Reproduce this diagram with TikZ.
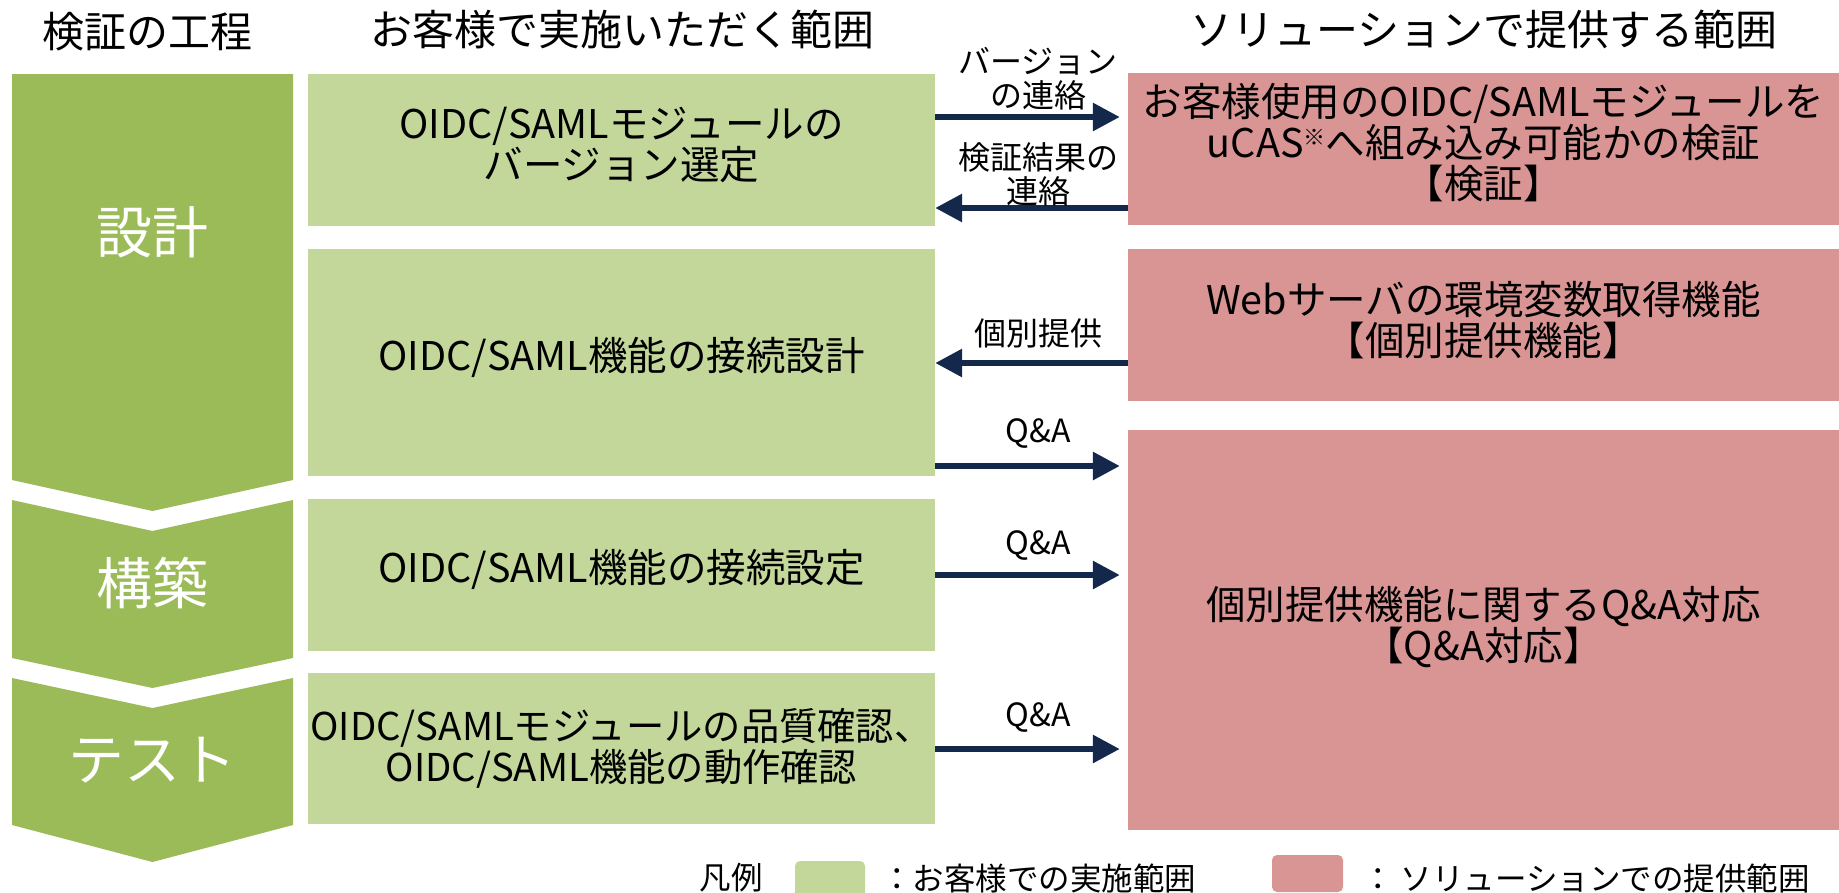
\documentclass[tikz,border=0pt]{standalone}
\usepackage{fontspec}
\setmainfont{Noto Sans CJK JP}
\usetikzlibrary{arrows.meta}
\definecolor{chev}{HTML}{9BBB59}
\definecolor{lgreen}{HTML}{C4D79B}
\definecolor{lpink}{HTML}{D99594}
\definecolor{navy}{HTML}{13284A}
\tikzset{
  boxtext/.style={inner sep=0pt, align=center, font=\fontsize{39.5}{41}\selectfont},
  gbox/.style={inner sep=0pt, fill=lgreen, minimum width=627pt},
  pbox/.style={inner sep=0pt, fill=lpink, minimum width=711pt},
  hdr/.style={inner sep=0pt, font=\fontsize{42}{44}\selectfont},
  stage/.style={inner sep=0pt, text=white, font=\fontsize{56}{60}\selectfont},
  lab/.style={inner sep=0pt, align=center, font=\fontsize{32}{34}\selectfont},
  leg/.style={inner sep=0pt, font=\fontsize{31.5}{34}\selectfont},
  arr/.style={draw=navy, line width=6pt, -{Triangle[length=27pt,width=27pt]}},
  chevfill/.style={fill=chev},
}
\begin{document}
\begin{tikzpicture}[x=1pt,y=-1pt]
\useasboundingbox (0,0) rectangle (1839,892);
% headers
\node[hdr] (h1) at (147,32) {検証の工程};
\node[hdr] (h2) at (622,29) {お客様で実施いただく範囲};
\node[hdr] (h3) at (1484,29) {ソリューションで提供する範囲};
% chevrons
\fill[chevfill] (12,74) -- (293,74) -- (293,480) -- (152.5,511) -- (12,480) -- cycle;
\fill[chevfill] (12,500) -- (152.5,531) -- (293,500) -- (293,658) -- (152.5,688) -- (12,658) -- cycle;
\fill[chevfill] (12,678) -- (152.5,708) -- (293,678) -- (293,825) -- (152.5,862) -- (12,825) -- cycle;
\node[stage] (s1) at (152.5,232) {設計};
\node[stage] (s2) at (152.5,583) {構築};
\node[stage] (s3) at (152.5,760) {テスト};
% customer boxes
\node[gbox, minimum height=152pt] (g1) at (621.5,150) {};
\node[gbox, minimum height=227pt] (g2) at (621.5,362.5) {};
\node[gbox, minimum height=152pt] (g3) at (621.5,575) {};
\node[gbox, minimum height=151pt] (g4) at (621.5,748.5) {};
\node[boxtext] (g1t) at ([yshift=5pt]g1.center) {OIDC/SAMLモジュールの\\バージョン選定};
\node[boxtext] (g2t) at ([yshift=5pt]g2.center) {OIDC/SAML機能の接続設計};
\node[boxtext] (g3t) at ([yshift=6pt]g3.center) {OIDC/SAML機能の接続設定};
\node[boxtext, font=\fontsize{38.3}{41}\selectfont] (g4t) at (g4.center) {OIDC/SAMLモジュールの品質確認、\\OIDC/SAML機能の動作確認};
% solution boxes
\node[pbox, minimum height=152pt] (p1) at (1483.5,149) {};
\node[pbox, minimum height=152pt] (p2) at (1483.5,325) {};
\node[pbox, minimum height=400pt] (p3) at (1483.5,630) {};
\node[boxtext] (p1t) at ([yshift=6pt]p1.center) {お客様使用のOIDC/SAMLモジュールを\\uCAS{\fontsize{22}{22}\selectfont\raisebox{12pt}{※}}へ組み込み可能かの検証\\【検証】};
\node[boxtext] (p2t) at ([yshift=5pt]p2.center) {Webサーバの環境変数取得機能\\【個別提供機能】};
\node[boxtext] (p3t) at ([yshift=3pt]p3.center) {個別提供機能に関するQ\&A対応\\【Q\&A対応】};
% arrow levels
\coordinate (y1) at (0,117);
\coordinate (y2) at (0,208);
\coordinate (y3) at (0,363);
\coordinate (y4) at (0,466);
\coordinate (y5) at (0,575);
\coordinate (y6) at (0,749);
\draw[arr, shorten >=8pt] (g1.east |- y1) -- (p1.west |- y1) node[lab, midway, xshift=6.5pt, yshift=38.5pt] (l1) {バージョン\\の連絡};
\draw[arr] (p1.west |- y2) -- (g1.east |- y2) node[lab, midway, xshift=6.5pt, yshift=33.5pt] (l2) {検証結果の\\連絡};
\draw[arr] (p2.west |- y3) -- (g2.east |- y3) node[lab, midway, xshift=6.5pt, yshift=30pt] (l3) {個別提供};
\draw[arr, shorten >=8pt] (g2.east |- y4) -- (p3.west |- y4) node[lab, midway, xshift=6.5pt, yshift=33pt] (l4) {Q\&A};
\draw[arr, shorten >=8pt] (g3.east |- y5) -- (p3.west |- y5) node[lab, midway, xshift=6.5pt, yshift=30pt] (l5) {Q\&A};
\draw[arr, shorten >=8pt] (g4.east |- y6) -- (p3.west |- y6) node[lab, midway, xshift=6.5pt, yshift=32pt] (l6) {Q\&A};
% legend
\node[leg] (lg0) at (731,878) {凡例};
\node[fill=lgreen, rounded corners=5pt, minimum width=70pt, minimum height=37pt, inner sep=0pt] (lgg) at (830,879.5) {};
\node[leg, anchor=west] (lgt1) at (881,878) {：お客様での実施範囲};
\node[fill=lpink, rounded corners=5pt, minimum width=71pt, minimum height=37pt, inner sep=0pt] (lgp) at (1307.5,873.5) {};
\node[leg, anchor=west] (lgt2) at (1362,878) {： ソリューションでの提供範囲};
\end{tikzpicture}
\end{document}
